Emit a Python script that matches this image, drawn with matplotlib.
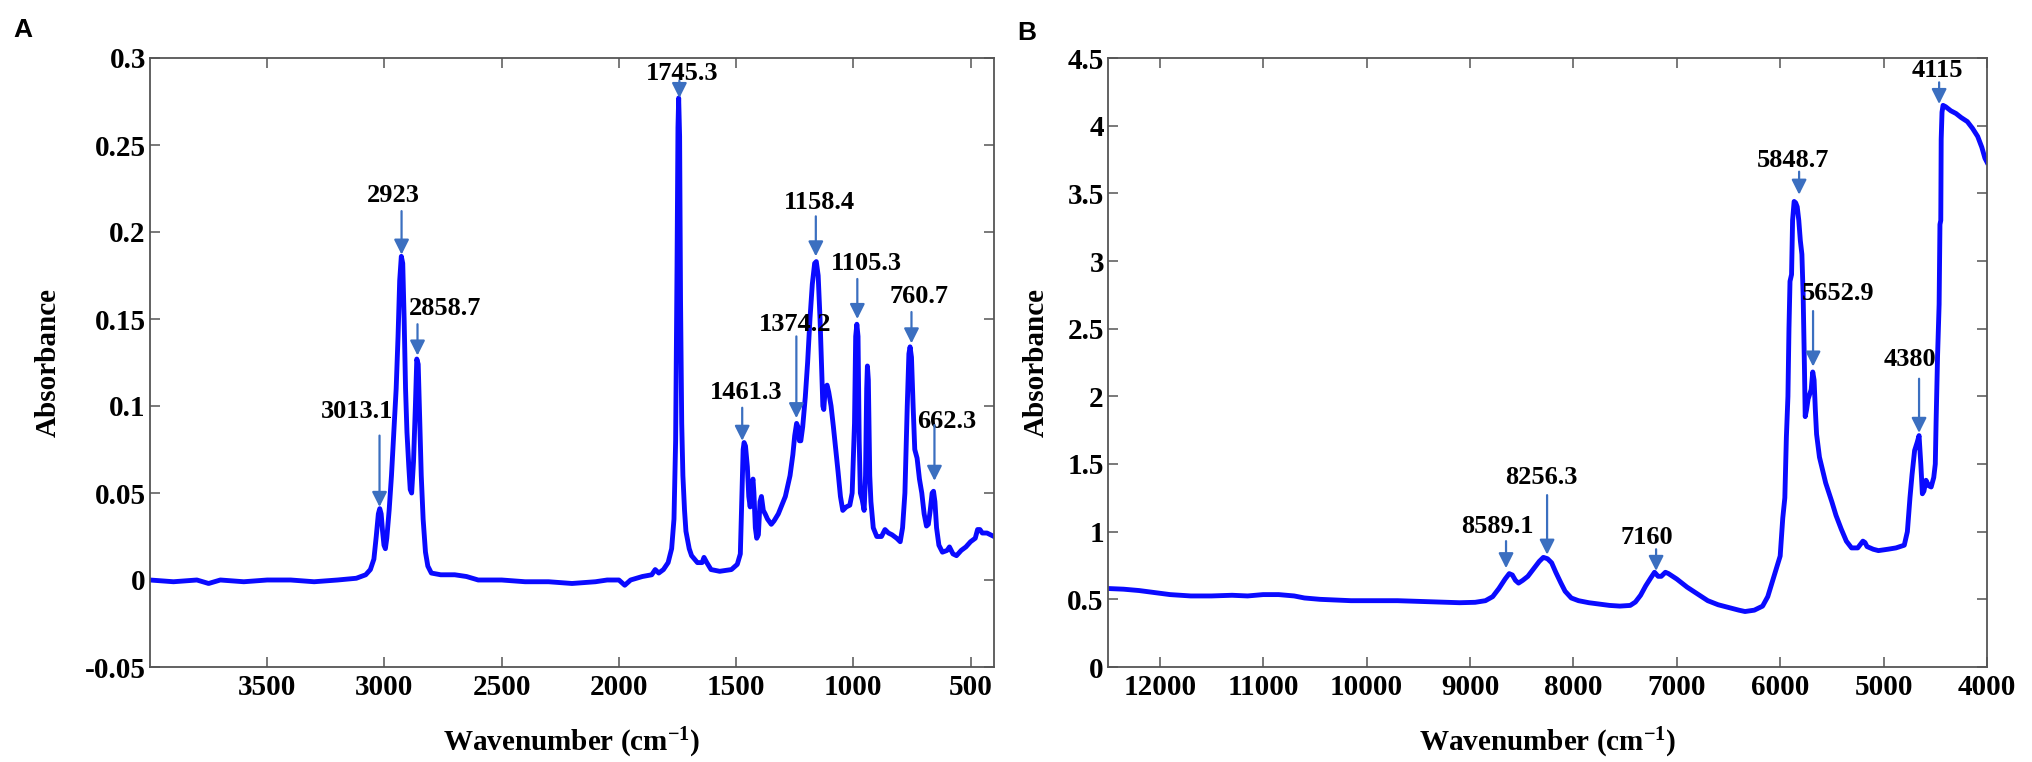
import matplotlib
matplotlib.use("Agg")
import matplotlib.pyplot as plt
from matplotlib.ticker import FixedLocator

plt.rcParams["font.family"] = ["Liberation Serif", "DejaVu Serif"]
plt.rcParams["font.weight"] = "bold"
plt.rcParams["mathtext.fontset"] = "custom"
plt.rcParams["mathtext.rm"] = "Liberation Serif:bold"
plt.rcParams["mathtext.bf"] = "Liberation Serif:bold"
plt.rcParams["mathtext.default"] = "bf"

# ---- panel A: mid-IR spectrum ----
wn_a = [4000, 3900, 3800, 3750, 3700, 3600, 3500, 3400, 3300, 3200, 3120, 3080,
        3060, 3045, 3035, 3026, 3020, 3014, 3008, 3002, 2996, 2990, 2980, 2970,
        2960, 2950, 2942, 2935, 2928, 2922, 2916, 2910, 2904, 2896, 2890, 2884,
        2876, 2868, 2862, 2856, 2850, 2843, 2835, 2825, 2815, 2800, 2760, 2700,
        2650, 2600, 2500, 2400, 2300, 2200, 2100, 2050, 2000, 1975, 1950, 1900,
        1860, 1845, 1830, 1810, 1790, 1775, 1765, 1758, 1752, 1748, 1745, 1741,
        1737, 1732, 1727, 1720, 1714, 1700, 1690, 1665, 1645, 1637, 1625, 1607,
        1570, 1520, 1495, 1482, 1476, 1470, 1466, 1460, 1452, 1446, 1440, 1434,
        1428, 1424, 1418, 1412, 1405, 1398, 1392, 1384, 1376, 1366, 1350, 1338,
        1320, 1308, 1290, 1270, 1258, 1250, 1242, 1236, 1230, 1224, 1216, 1205,
        1195, 1185, 1175, 1165, 1158, 1150, 1142, 1136, 1130, 1126, 1120, 1112,
        1105, 1095, 1085, 1075, 1065, 1055, 1045, 1030, 1015, 1005, 995, 990,
        985, 980, 975, 970, 962, 954, 948, 943, 940, 936, 930, 925, 915, 900,
        880, 865, 850, 835, 815, 800, 790, 780, 770, 763, 758, 752, 745, 738,
        728, 718, 708, 698, 688, 680, 672, 664, 658, 652, 645, 635, 620, 600,
        590, 575, 560, 540, 520, 500, 480, 470, 460, 450, 430, 400]
abs_a = [0.000, -0.001, 0.000, -0.002, 0.000, -0.001, 0.000, 0.000, -0.001, 0.000, 0.001, 0.003,
         0.006, 0.012, 0.025, 0.038, 0.041, 0.038, 0.028, 0.020, 0.018, 0.024, 0.040, 0.060,
         0.085, 0.110, 0.140, 0.172, 0.186, 0.182, 0.150, 0.110, 0.085, 0.065, 0.052, 0.050,
         0.068, 0.100, 0.127, 0.124, 0.095, 0.060, 0.035, 0.016, 0.008, 0.004, 0.003, 0.003,
         0.002, 0.000, 0.000, -0.001, -0.001, -0.002, -0.001, 0.000, 0.000, -0.003, 0.000, 0.002,
         0.003, 0.006, 0.004, 0.006, 0.010, 0.018, 0.035, 0.080, 0.180, 0.260, 0.277, 0.255,
         0.160, 0.090, 0.060, 0.040, 0.028, 0.018, 0.014, 0.010, 0.010, 0.013, 0.010, 0.006,
         0.005, 0.006, 0.009, 0.015, 0.045, 0.075, 0.079, 0.077, 0.065, 0.048, 0.042, 0.055,
         0.058, 0.050, 0.030, 0.024, 0.026, 0.045, 0.048, 0.040, 0.038, 0.035, 0.032, 0.034,
         0.038, 0.042, 0.048, 0.060, 0.072, 0.083, 0.090, 0.088, 0.080, 0.080, 0.088, 0.105,
         0.125, 0.150, 0.170, 0.182, 0.183, 0.175, 0.150, 0.125, 0.100, 0.098, 0.110, 0.112,
         0.108, 0.100, 0.088, 0.075, 0.062, 0.048, 0.040, 0.042, 0.043, 0.050, 0.090, 0.140,
         0.147, 0.140, 0.080, 0.050, 0.046, 0.040, 0.060, 0.110, 0.123, 0.115, 0.060, 0.045,
         0.030, 0.025, 0.025, 0.029, 0.027, 0.026, 0.024, 0.022, 0.030, 0.050, 0.100, 0.130,
         0.134, 0.128, 0.100, 0.075, 0.070, 0.058, 0.050, 0.038, 0.031, 0.032, 0.040, 0.050,
         0.051, 0.045, 0.030, 0.020, 0.016, 0.017, 0.019, 0.015, 0.014, 0.017, 0.019, 0.022,
         0.024, 0.029, 0.029, 0.027, 0.027, 0.025]

# ---- panel B: near-IR spectrum ----
wn_b = [12500, 12350, 12200, 12050, 11900, 11700, 11500, 11300, 11150, 11000, 10850,
        10700, 10600, 10450, 10300, 10150, 10000, 9850, 9700, 9500, 9300, 9100, 8950,
        8850, 8780, 8720, 8660, 8620, 8590, 8560, 8530, 8490, 8440, 8380, 8330, 8290,
        8250, 8210, 8170, 8120, 8080, 8020, 7950, 7850, 7750, 7650, 7550, 7450, 7400,
        7350, 7300, 7250, 7215, 7180, 7150, 7110, 7080, 7000, 6900, 6800, 6700, 6600,
        6500, 6400, 6340, 6250, 6170, 6120, 6080, 6040, 6000, 5975, 5955, 5940, 5925,
        5915, 5905, 5890, 5880, 5865, 5850, 5835, 5820, 5805, 5790, 5778, 5765, 5758,
        5745, 5730, 5700, 5685, 5672, 5660, 5648, 5620, 5560, 5500, 5460, 5410, 5360,
        5310, 5250, 5200, 5180, 5160, 5100, 5050, 4960, 4880, 4800, 4770, 4745, 4725,
        4700, 4675, 4657, 4640, 4625, 4610, 4590, 4565, 4540, 4515, 4500, 4492, 4478,
        4463, 4455, 4447, 4443, 4435, 4425, 4400, 4350, 4300, 4250, 4190, 4140, 4090,
        4050, 4020, 4000]
abs_b = [0.58, 0.575, 0.565, 0.55, 0.535, 0.525, 0.525, 0.53, 0.525, 0.535, 0.535,
         0.525, 0.51, 0.50, 0.495, 0.49, 0.49, 0.49, 0.49, 0.485, 0.48, 0.475, 0.478,
         0.49, 0.52, 0.58, 0.65, 0.69, 0.68, 0.64, 0.62, 0.64, 0.67, 0.73, 0.78, 0.81,
         0.80, 0.77, 0.70, 0.62, 0.56, 0.51, 0.49, 0.475, 0.465, 0.455, 0.45, 0.455, 0.48,
         0.53, 0.60, 0.66, 0.70, 0.67, 0.67, 0.70, 0.69, 0.65, 0.59, 0.54, 0.49, 0.46,
         0.44, 0.42, 0.41, 0.42, 0.45, 0.52, 0.62, 0.72, 0.82, 1.10, 1.25, 1.70, 2.00,
         2.50, 2.85, 2.90, 3.30, 3.44, 3.43, 3.40, 3.30, 3.15, 3.05, 2.75, 2.20, 1.85,
         1.90, 1.98, 2.05, 2.18, 2.12, 1.90, 1.72, 1.55, 1.36, 1.22, 1.12, 1.02, 0.93,
         0.88, 0.88, 0.93, 0.92, 0.89, 0.87, 0.86, 0.87, 0.88, 0.90, 1.00, 1.25, 1.42,
         1.60, 1.66, 1.71, 1.50, 1.28, 1.30, 1.38, 1.34, 1.33, 1.40, 1.50, 1.82, 2.30,
         2.68, 3.27, 3.30, 3.90, 4.10, 4.15, 4.14, 4.11, 4.09, 4.06, 4.03, 3.98, 3.92,
         3.84, 3.76, 3.73]

# peak labels: text, text x, text y, arrow x, arrow tail y, arrow tip y
labels_a = ["3013.1", "2923", "2858.7", "1745.3", "1461.3", "1374.2",
            "1158.4", "1105.3", "760.7", "662.3"]
text_xy_a = [(3115, 0.097), (2962, 0.221), (2740, 0.156), (1731, 0.291), (1457, 0.108),
             (1250, 0.147), (1145, 0.217), (944, 0.182), (718, 0.163), (602, 0.091)]
arrows_a = [(3021, 0.083, 0.042), (2927, 0.212, 0.187), (2859, 0.147, 0.129),
            (1742, 0.287, 0.277), (1474, 0.099, 0.080), (1243, 0.140, 0.093),
            (1160, 0.209, 0.186), (983, 0.173, 0.150), (752, 0.154, 0.136),
            (654, 0.089, 0.057)]

labels_b = ["8589.1", "8256.3", "7160", "5848.7", "5652.9", "4380", "4115"]
text_xy_b = [(8738, 1.04), (8312, 1.40), (7287, 0.96), (5875, 3.74), (5440, 2.76),
             (4744, 2.27), (4483, 4.41)]
arrows_b = [(8651, 0.93, 0.73), (8254, 1.27, 0.83), (7200, 0.87, 0.71),
            (5817, 3.66, 3.49), (5682, 2.63, 2.22), (4657, 2.13, 1.73),
            (4463, 4.32, 4.16)]

xticks_a = [3500, 3000, 2500, 2000, 1500, 1000, 500]
yticks_a = [-0.05, 0, 0.05, 0.1, 0.15, 0.2, 0.25, 0.3]
yticklabels_a = ["-0.05", "0", "0.05", "0.1", "0.15", "0.2", "0.25", "0.3"]
xticks_b = [12000, 11000, 10000, 9000, 8000, 7000, 6000, 5000, 4000]
yticks_b = [0, 0.5, 1, 1.5, 2, 2.5, 3, 3.5, 4, 4.5]
yticklabels_b = ["0", "0.5", "1", "1.5", "2", "2.5", "3", "3.5", "4", "4.5"]

LINE = "#0a0aff"
ARROW = "#3b6fc0"
SPINE = "#555555"


def style_axes(ax, xticks, yticks, yticklabels, xlim, ylim, ylabel_x):
    ax.set_xlim(*xlim)
    ax.set_ylim(*ylim)
    ax.xaxis.set_major_locator(FixedLocator(xticks))
    ax.set_xticklabels([str(t) for t in xticks])
    ax.set_yticks(yticks)
    ax.set_yticklabels(yticklabels)
    ax.tick_params(direction="in", length=7, width=1.1, color=SPINE,
                   top=True, right=True, labelsize=21, pad=5)
    ax.tick_params(axis="y", pad=3)
    for lab in ax.get_xticklabels() + ax.get_yticklabels():
        lab.set_fontweight("bold")
    for sp in ax.spines.values():
        sp.set_color(SPINE)
        sp.set_linewidth(1.3)
    ax.set_xlabel("Wavenumber (cm$^{-1}$)", fontsize=21, fontweight="bold")
    ax.set_ylabel("Absorbance", fontsize=21, fontweight="bold")
    ax.xaxis.set_label_coords(0.5, -0.097)
    ax.yaxis.set_label_coords(ylabel_x, 0.5)


def add_peaks(ax, labels, text_xy, arrows):
    for lab, (tx, ty), (ax_x, tail, tip) in zip(labels, text_xy, arrows):
        ax.text(tx, ty, lab, ha="center", va="center", fontsize=19, fontweight="bold")
        ax.annotate("", xy=(ax_x, tip), xytext=(ax_x, tail),
                    arrowprops=dict(arrowstyle="-|>,head_length=0.6,head_width=0.3",
                                    mutation_scale=15, color=ARROW, lw=1.6,
                                    shrinkA=0, shrinkB=0))


fig = plt.figure(figsize=(20.33, 7.62), dpi=100)
ax_a = fig.add_axes([150 / 2033, 95 / 762, 844 / 2033, 609 / 762])
ax_b = fig.add_axes([1108 / 2033, 95 / 762, 879 / 2033, 609 / 762])

ax_a.plot(wn_a, abs_a, color=LINE, lw=3.5, solid_joinstyle="round")
style_axes(ax_a, xticks_a, yticks_a, yticklabels_a, (4000, 400), (-0.05, 0.3), -0.104)
add_peaks(ax_a, labels_a, text_xy_a, arrows_a)

ax_b.plot(wn_b, abs_b, color=LINE, lw=3.5, solid_joinstyle="round")
style_axes(ax_b, xticks_b, yticks_b, yticklabels_b, (12500, 4000), (0, 4.5), -0.066)
add_peaks(ax_b, labels_b, text_xy_b, arrows_b)

fig.text(13 / 2033, 1 - 30 / 762, "A", family=["Liberation Sans", "DejaVu Sans"],
         fontsize=19, fontweight="bold", ha="left", va="center")
fig.text(1017 / 2033, 1 - 33 / 762, "B", family=["Liberation Sans", "DejaVu Sans"],
         fontsize=19, fontweight="bold", ha="left", va="center")

fig.savefig("out.png", dpi=100)
